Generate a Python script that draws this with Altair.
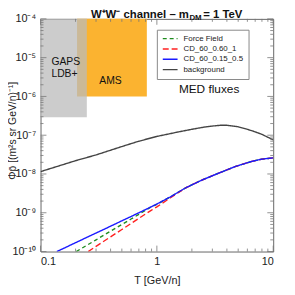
import altair as alt
import pandas as pd

# ---------------- data ----------------
series_names = ["Force Field", "CD_60_0.60_1", "CD_60_0.15_0.5", "background"]
series_colors = ["#1e8c1e", "#ff2020", "#1a1aff", "#444444"]
series_dash = [[4, 3], [6, 3], [1, 0], [1, 0]]
series_width = [1.4, 1.4, 1.4, 0.8]

T_blue = [0.138, 0.16, 0.2, 0.25, 0.3, 0.4, 0.5, 0.6, 0.7, 0.8, 1.0, 1.3, 1.77, 2.45, 3.4, 4.7, 6.5, 8.0, 10.0]
F_blue = [1.0e-10, 1.23e-10, 1.69e-10, 2.32e-10, 3.0e-10, 4.5e-10, 6.2e-10, 8.0e-10, 1.0e-9, 1.21e-9,
          1.68e-9, 2.55e-9, 4.4e-9, 7.0e-9, 1.05e-8, 1.55e-8, 2.1e-8, 2.42e-8, 2.6e-8]

T_green = [0.203, 0.25, 0.3, 0.4, 0.5, 0.6, 0.7, 0.8, 0.9, 1.0, 1.3, 1.77, 2.45, 3.4, 4.7, 6.5, 8.0, 10.0]
F_green = [1.0e-10, 1.45e-10, 2.0e-10, 3.36e-10, 5.0e-10, 6.9e-10, 9.1e-10, 1.16e-9, 1.43e-9, 1.65e-9,
           2.55e-9, 4.4e-9, 7.0e-9, 1.05e-8, 1.55e-8, 2.1e-8, 2.42e-8, 2.6e-8]

T_red = [0.257, 0.3, 0.4, 0.5, 0.6, 0.7, 0.8, 0.9, 1.0, 1.3, 1.77, 2.45, 3.4, 4.7, 6.5, 8.0, 10.0]
F_red = [1.0e-10, 1.36e-10, 2.39e-10, 3.7e-10, 5.3e-10, 7.2e-10, 9.3e-10, 1.17e-9, 1.42e-9, 2.4e-9,
         4.4e-9, 7.0e-9, 1.05e-8, 1.55e-8, 2.1e-8, 2.42e-8, 2.6e-8]

T_bkg = [0.1, 0.2, 0.3, 0.5, 0.7, 1.0, 1.5, 2.0, 2.5, 3.0, 3.5, 4.0, 5.0, 6.0, 7.0, 8.0, 10.0]
F_bkg = [1.15e-8, 2.2e-8, 3.1e-8, 5.1e-8, 7.0e-8, 9.3e-8, 1.2e-7, 1.42e-7, 1.6e-7, 1.72e-7, 1.8e-7,
         1.8e-7, 1.65e-7, 1.42e-7, 1.22e-7, 1.05e-7, 7.6e-8]

region_names = ["AMS", "GAPS LDB+"]
region_T0 = [0.206, 0.1]
region_T1 = [0.82, 0.25]
region_F0 = [1e-6, 2.9e-7]
region_F1 = [1e-4, 1e-4]

x_major = [0.1, 1, 10]
x_labels_fmt = "~g"
y_major = [1e-10, 1e-9, 1e-8, 1e-7, 1e-6, 1e-5, 1e-4]
y_labels = ["10⁻¹⁰", "10⁻⁹", "10⁻⁸", "10⁻⁷", "10⁻⁶", "10⁻⁵", "10⁻⁴"]
x_minor = [k * 10 ** e for e in (-1, 0) for k in range(2, 10)]
y_minor = [k * 10.0 ** e for e in range(-10, -4) for k in range(2, 10)]

# ---------------- tables ----------------
rows = []
for name, T, F in [("Force Field", T_green, F_green), ("CD_60_0.60_1", T_red, F_red),
                   ("CD_60_0.15_0.5", T_blue, F_blue), ("background", T_bkg, F_bkg)]:
    for t, f in zip(T, F):
        rows.append({"series": name, "T": t, "flux": f})
df = pd.DataFrame(rows)
reg = pd.DataFrame({"name": region_names, "T0": region_T0, "T1": region_T1,
                    "F0": region_F0, "F1": region_F1})

W, H = 236, 236
FONT = "Liberation Sans"
xscale = alt.Scale(type="log", domain=[0.1, 10], nice=False)
yscale = alt.Scale(type="log", domain=[1e-10, 1e-4], nice=False)
label_expr = "[" + ",".join("'%s'" % l for l in y_labels) + "][round(log(datum.value)/LN10)+10]"
xaxis = alt.Axis(values=x_major, format=x_labels_fmt, title="T [GeV/n]", labelPadding=4,
                 titlePadding=8, labelFontSize=11, titleFontSize=11, titleFontWeight="normal")
yaxis = alt.Axis(values=y_major, labelExpr=label_expr, title="Φp̄ [(m²s sr GeV/n)⁻¹]",
                 labelPadding=5, labelFontSize=11, titleFontSize=10.5, titleFontWeight="normal",
                 titleX=-23, titleY=113)


def X(field):
    return alt.X(field, type="quantitative", scale=xscale, axis=xaxis)


def Y(field):
    return alt.Y(field, type="quantitative", scale=yscale, axis=yaxis)


ams = alt.Chart(reg).transform_filter(alt.datum.name == "AMS").mark_rect(
    color="#fbb330").encode(x=X("T0"), x2="T1", y=Y("F0"), y2="F1")
gaps = alt.Chart(reg).transform_filter(alt.datum.name == "GAPS LDB+").mark_rect(
    color="#bbbbbb", opacity=0.75).encode(x=X("T0"), x2="T1", y=Y("F0"), y2="F1")

legend = alt.Legend(title=None, orient="none", legendX=118, legendY=11, padding=5,
                    fillColor="white", strokeColor="#888888", symbolType="stroke",
                    symbolSize=225, clipHeight=8, rowPadding=2.5, labelFontSize=8,
                    labelFont=FONT, labelOffset=5, labelColor="#222222")

lines = alt.Chart(df).mark_line(clip=True).encode(
    x=X("T"), y=Y("flux"),
    color=alt.Color("series:N", scale=alt.Scale(domain=series_names, range=series_colors), legend=legend),
    strokeDash=alt.StrokeDash("series:N", scale=alt.Scale(domain=series_names, range=series_dash), legend=legend),
    strokeWidth=alt.StrokeWidth("series:N", scale=alt.Scale(domain=series_names, range=series_width), legend=legend),
)

tick_color = "#777777"
xt_major = pd.DataFrame({"T": x_major})
xt_minor = pd.DataFrame({"T": x_minor})
yt_major = pd.DataFrame({"flux": y_major})
yt_minor = pd.DataFrame({"flux": y_minor})


def xticks(d, L):
    b = alt.Chart(d).mark_rule(color=tick_color, strokeWidth=0.8).encode(
        x=X("T"), y=alt.value(H), y2=alt.value(H - L))
    t = alt.Chart(d).mark_rule(color=tick_color, strokeWidth=0.8).encode(
        x=X("T"), y=alt.value(0), y2=alt.value(L))
    return [b, t]


def yticks(d, L):
    l = alt.Chart(d).mark_rule(color=tick_color, strokeWidth=0.8).encode(
        y=Y("flux"), x=alt.value(0), x2=alt.value(L))
    r = alt.Chart(d).mark_rule(color=tick_color, strokeWidth=0.8).encode(
        y=Y("flux"), x=alt.value(W), x2=alt.value(W - L))
    return [l, r]


one = pd.DataFrame({"k": [0]})


def label(text, x, y, size, align="left", weight="normal", baseline="middle"):
    return alt.Chart(one).mark_text(text=text, font=FONT, fontSize=size, align=align,
                                    baseline=baseline, fontWeight=weight, color="#111111").encode(
        x=alt.value(x), y=alt.value(y))


texts = [
    label("GAPS", 11, 43.5, 10.5),
    label("LDB+", 11, 56, 10.5),
    label("AMS", 71, 63, 10.5, align="center"),
    label("MED fluxes", 171, 71, 12, align="center"),
    label("W⁺W⁻ channel – m", 150.5, -1, 11.5, align="right", weight="bold", baseline="alphabetic"),
    label("DM", 151, 1.5, 8, weight="bold", baseline="alphabetic"),
    label("= 1 TeV", 165, -1, 11.5, weight="bold", baseline="alphabetic"),
]

chart = alt.layer(
    ams, gaps, *texts, lines,
    *xticks(xt_major, 6), *xticks(xt_minor, 3), *yticks(yt_major, 6), *yticks(yt_minor, 3),
).properties(
    width=W, height=H,
    padding={"left": 33, "top": 9, "right": 14, "bottom": 38},
    autosize=alt.AutoSizeParams(type="none"),
).configure(font=FONT).configure_view(stroke="#666666", strokeWidth=1).configure_axis(
    domain=False, ticks=False, grid=False, labelFont=FONT, titleFont=FONT,
    labelColor="#222222", titleColor="#222222",
)

chart.save("out.html", embed_options={"renderer": "svg", "actions": False})
